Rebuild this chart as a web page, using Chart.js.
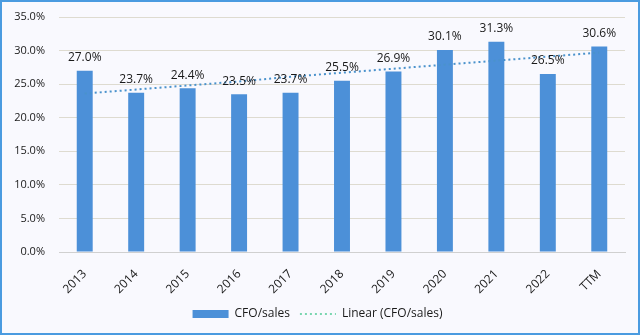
<!DOCTYPE html>
<html>
<head>
<meta charset="utf-8">
<script src="https://cdn.jsdelivr.net/npm/chart.js@4"></script>
<style>
  html, body { margin: 0; padding: 0; background: #f9f9fe; }
  #wrap {
    width: 636px; height: 331px;
    border: 2px solid #4a9be0;
    background: #f9f9fe;
  }
</style>
</head>
<body>
<div id="wrap"><canvas id="grafica" width="636" height="331"></canvas></div>
<script>
// categorias y series
const periodos = ["2013", "2014", "2015", "2016", "2017", "2018", "2019", "2020", "2021", "2022", "TTM"];
const cfoVentas = [27.0, 23.7, 24.4, 23.5, 23.7, 25.5, 26.9, 30.1, 31.3, 26.5, 30.6];
// linea de tendencia
const tendencia = [23.6, 24.2, 24.8, 25.4, 26.1, 26.7, 27.3, 27.9, 28.5, 29.1, 29.7];
const ticksY = [0, 5, 10, 15, 20, 25, 30, 35];

const azulBarra = "#4c90d8";
const azulLinea = "#4a92cc";
const fuente = "'Open Sans', sans-serif";

// etiquetas de valor encima de cada barra
const etiquetasValor = {
    id: "etiquetasValor",
    afterDatasetsDraw(chart) {
        const ctx = chart.ctx;
        const meta = chart.getDatasetMeta(0);
        ctx.save();
        ctx.font = "12px " + fuente;
        ctx.fillStyle = "#1a1a1a";
        ctx.textAlign = "center";
        ctx.textBaseline = "bottom";
        meta.data.forEach((barra, i) => {
            ctx.fillText(cfoVentas[i].toFixed(1) + "%", barra.x, barra.y - 7);
        });
        ctx.restore();
    }
};

new Chart(document.getElementById("grafica"), {
    type: "bar",
    data: {
        labels: periodos,
        datasets: [
            {
                label: "CFO/sales",
                data: cfoVentas,
                backgroundColor: azulBarra,
                borderWidth: 0,
                categoryPercentage: 1,
                barPercentage: 0.31,
                order: 2,
                pointStyle: "rect"
            },
            {
                type: "line",
                label: "Linear (CFO/sales)",
                data: tendencia,
                borderColor: azulLinea,
                borderWidth: 2,
                borderDash: [2, 3],
                pointRadius: 0,
                fill: false,
                order: 1,
                pointStyle: "line"
            }
        ]
    },
    options: {
        responsive: false,
        animation: false,
        layout: { padding: { left: 8, right: 13, top: 15, bottom: 3 } },
        plugins: {
            tooltip: { enabled: false },
            legend: {
                position: "bottom",
                labels: {
                    usePointStyle: true,
                    pointStyleWidth: 36,
                    boxHeight: 8,
                    padding: 10,
                    color: "#1a1a1a",
                    font: { family: fuente, size: 12 },
                    generateLabels(chart) {
                        return chart.data.datasets.map((ds, i) => ({
                            text: ds.label,
                            datasetIndex: i,
                            pointStyle: ds.pointStyle,
                            fillStyle: i === 0 ? azulBarra : "rgba(0,0,0,0)",
                            strokeStyle: i === 0 ? azulBarra : "#7ad6b0",
                            lineWidth: i === 0 ? 0 : 2,
                            lineDash: i === 0 ? [] : [2, 3],
                            fontColor: "#1a1a1a"
                        }));
                    }
                }
            }
        },
        scales: {
            x: {
                grid: { display: false },
                border: { display: true, color: "#d0d0d0" },
                afterFit(scale) { scale.height = 46; },
                ticks: {
                    minRotation: 45,
                    maxRotation: 45,
                    color: "#1a1a1a",
                    padding: 7,
                    font: { family: fuente, size: 12 }
                }
            },
            y: {
                min: 0,
                max: 35,
                afterBuildTicks(axis) {
                    axis.ticks = ticksY.map(v => ({ value: v }));
                },
                afterFit(scale) { scale.width = 49; },
                grid: { color: "#dedbd0", tickColor: "rgba(0,0,0,0)", tickLength: 10, lineWidth: 1 },
                border: { display: false },
                ticks: {
                    padding: 4,
                    color: "#1a1a1a",
                    font: { family: fuente, size: 11 },
                    callback: v => v.toFixed(1) + "%"
                }
            }
        }
    },
    plugins: [etiquetasValor]
});
</script>
</body>
</html>
